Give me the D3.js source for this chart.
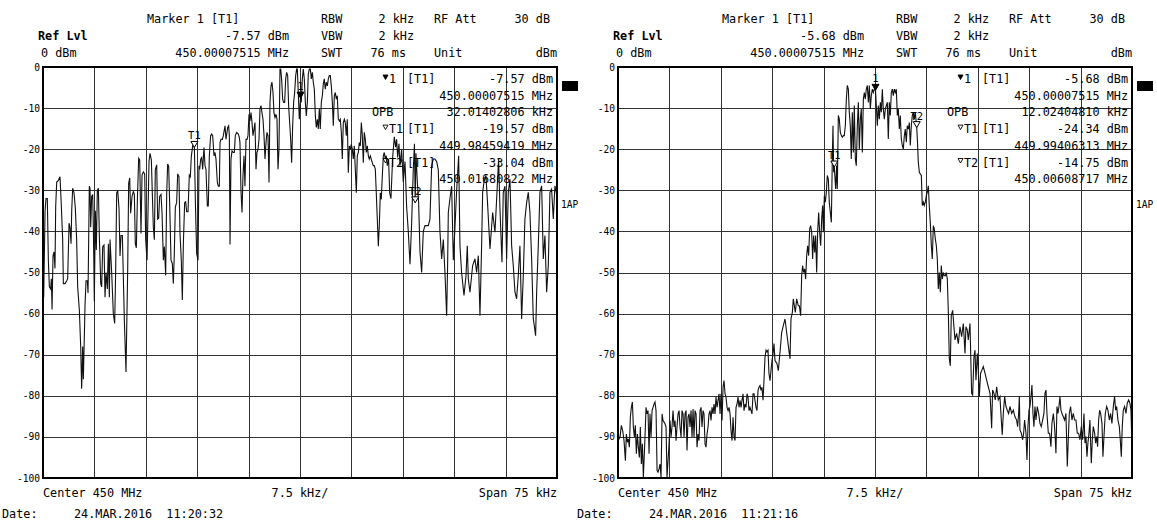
<!DOCTYPE html>
<html>
<head>
<meta charset="utf-8">
<script src="https://cdn.jsdelivr.net/npm/d3@7"></script>
<style>
  body { margin: 0; background: #fff; }
  svg text { font-family: "DejaVu Sans Mono", "Liberation Mono", monospace; fill: #000; white-space: pre; }
</style>
</head>
<body>
<svg id="chart" width="1157" height="520"></svg>
<script>
// Level grid (dBm) and frequency grid (kHz offset from 450 MHz centre)
const levelTicks = [0, -10, -20, -30, -40, -50, -60, -70, -80, -90, -100];
const freqGrid = [-37.5, -30, -22.5, -15, -7.5, 0, 7.5, 15, 22.5, 30, 37.5];

// Trace 1, first sweep: [offset kHz, level dBm]
const sweepA = [
  [-37.5,-46],[-37.4,-56],[-37.2,-35],[-37.06,-32],[-36.87,-32],[-36.72,-47],[-36.57,-53.5],[-36.38,-54],[-36.28,-51.5],[-36.18,-59],
  [-36.04,-46],[-35.89,-45],[-35.75,-49],[-35.65,-34],[-35.5,-28],[-35.26,-27.6],[-35.02,-26.7],[-34.87,-32],[-34.63,-42],[-34.53,-52.7],
  [-34.29,-52.7],[-34.04,-52],[-33.9,-51.5],[-33.7,-38],[-33.56,-39],[-33.41,-43],[-33.31,-35],[-33.17,-29.5],[-32.97,-30.7],[-32.78,-34.4],
  [-32.59,-42],[-32.44,-53.5],[-32.2,-59],[-32.0,-68],[-31.86,-78.3],[-31.71,-68],[-31.61,-76],[-31.37,-58],[-31.22,-52],[-31.03,-52],
  [-30.93,-55],[-30.74,-29],[-30.64,-29.5],[-30.54,-39],[-30.4,-31.5],[-30.25,-31],[-30.15,-39],[-30.01,-57],[-29.86,-35],[-29.72,-44.5],
  [-29.57,-30],[-29.42,-29.5],[-29.28,-41],[-29.08,-52.7],[-28.94,-53.5],[-28.79,-43.7],[-28.6,-43.3],[-28.45,-56],[-28.3,-50],[-28.11,-54],
  [-27.96,-43],[-27.82,-56],[-27.72,-42],[-27.48,-50],[-27.24,-60],[-27.04,-62.4],[-26.9,-50],[-26.75,-30.7],[-26.6,-30],[-26.41,-34.4],
  [-26.26,-46],[-26.12,-41],[-25.92,-41],[-25.78,-51],[-25.63,-61.6],[-25.39,-74.2],[-25.14,-49],[-25.0,-28.3],[-24.85,-27],[-24.71,-35.6],
  [-24.51,-31.5],[-24.32,-30.3],[-24.17,-31],[-24.03,-43],[-23.88,-44],[-23.73,-32.4],[-23.54,-22.2],[-23.39,-22.6],[-23.2,-40.5],[-23.05,-26.3],
  [-22.86,-25.5],[-22.66,-26],[-22.52,-42],[-22.32,-47],[-22.18,-35.6],[-22.03,-23],[-21.89,-21],[-21.69,-22.6],[-21.55,-30.7],[-21.4,-39],
  [-21.25,-42],[-21.11,-25],[-20.91,-23.8],[-20.77,-37],[-20.62,-36.8],[-20.48,-31.5],[-20.28,-31],[-20.13,-35.6],[-19.94,-47],[-19.79,-43.7],
  [-19.6,-50.7],[-19.45,-30.7],[-19.31,-23.6],[-19.16,-24.2],[-19.02,-33],[-18.82,-47],[-18.63,-47.8],[-18.48,-52.7],[-18.34,-45.4],[-18.19,-34],
  [-18.0,-33],[-17.85,-26],[-17.66,-26.7],[-17.51,-40.5],[-17.32,-47],[-17.17,-56.7],[-17.02,-43],[-16.83,-33],[-16.68,-32.8],[-16.54,-35.2],
  [-16.34,-35.2],[-16.15,-26.3],[-16.0,-26.7],[-15.86,-21.8],[-15.66,-19.2],[-15.41,-19.57],[-15.27,-32.4],[-15.08,-45.4],[-14.88,-47],[-14.74,-24],
  [-14.64,-24.9],[-14.49,-22.4],[-14.35,-22],[-14.2,-24.9],[-14.01,-19.6],[-13.86,-24],[-13.72,-24.9],[-13.52,-33.8],[-13.38,-33.8],[-13.23,-21.6],
  [-13.04,-16.7],[-12.89,-16.3],[-12.74,-16.7],[-12.55,-21.6],[-12.4,-20.8],[-12.26,-22.4],[-12.06,-28.1],[-11.92,-29],[-11.77,-29],[-11.67,-18.4],
  [-11.53,-17.6],[-11.33,-17.6],[-11.19,-16.7],[-10.94,-14.3],[-10.8,-17.6],[-10.55,-14.7],[-10.41,-14.3],[-10.31,-16.7],[-10.21,-43.2],[-10.07,-22.4],
  [-9.92,-20.4],[-9.73,-20.8],[-9.58,-20.8],[-9.44,-16.7],[-9.24,-15.9],[-9.0,-16.3],[-8.85,-17.2],[-8.76,-18.4],[-8.61,-30.2],[-8.46,-35.4],
  [-8.32,-26.5],[-8.17,-21.6],[-8.03,-29],[-7.88,-17.6],[-7.73,-17.6],[-7.59,-16.7],[-7.44,-11.5],[-7.3,-13.1],[-7.15,-11.1],[-7.0,-13.5],
  [-6.86,-16.7],[-6.71,-15.1],[-6.57,-13.5],[-6.42,-24.9],[-6.28,-20.8],[-6.13,-20],[-5.98,-17.6],[-5.84,-10.2],[-5.69,-9.4],[-5.55,-11.1],
  [-5.4,-12.7],[-5.25,-16.7],[-5.11,-22.4],[-4.96,-18.4],[-4.82,-15.9],[-4.67,-16.7],[-4.52,-28.1],[-4.38,-8.6],[-4.23,-4.6],[-4.09,-3.7],
  [-3.94,-6.2],[-3.8,-11.1],[-3.65,-12.3],[-3.5,-11.5],[-3.36,-12.7],[-3.21,-24.9],[-3.07,-20],[-2.92,-0.5],[-2.82,-0.5],[-2.68,-2.9],
  [-2.53,-7.8],[-2.38,-8.6],[-2.24,-8.6],[-2.09,-2.9],[-1.95,-1.3],[-1.8,-2.1],[-1.66,-9.4],[-1.51,-13.5],[-1.36,-17.6],[-1.22,-23.3],
  [-1.07,-14.3],[-0.93,-8.6],[-0.78,-6.2],[-0.63,-2.1],[-0.49,-0.5],[-0.39,-0.5],[-0.25,-6.2],[-0.1,-12.7],[0.075,-7.57],[0.19,-8.6],
  [0.34,-2.9],[0.48,-0.5],[0.63,-2.9],[0.78,-8.6],[0.92,-11.9],[1.07,-8.6],[1.21,-1.7],[1.36,-0.5],[1.51,-0.5],[1.65,-2.9],
  [1.8,-1.3],[1.94,-3.7],[2.09,-5.4],[2.24,-11.9],[2.38,-14.7],[2.53,-12.7],[2.67,-15.1],[2.82,-10.2],[2.96,-15.1],[3.11,-8.6],
  [3.26,-7],[3.4,-4.1],[3.55,-2.9],[3.69,-5.4],[3.84,-3.7],[3.99,-4.6],[4.13,-2.9],[4.28,-2.1],[4.42,-2.1],[4.57,-4.6],
  [4.72,-8.6],[4.86,-14.3],[5.01,-7],[5.15,-6.2],[5.3,-7.8],[5.44,-7],[5.59,-12.7],[5.74,-13.1],[5.88,-12.7],[6.03,-15.9],
  [6.17,-22.4],[6.32,-13.5],[6.47,-12.7],[6.61,-13.5],[6.76,-16.7],[6.9,-12.7],[7.05,-25.7],[7.2,-19.2],[7.34,-20],[7.49,-18.8],
  [7.63,-20],[7.78,-22.4],[7.92,-19.2],[8.07,-24.9],[8.22,-30.6],[8.36,-21.6],[8.51,-20.8],[8.65,-18.4],[8.8,-19.2],[8.95,-13.5],
  [9.09,-16.7],[9.24,-23.3],[9.38,-15.9],[9.53,-17.6],[9.68,-20.8],[9.82,-19.2],[9.97,-21.6],[10.11,-22.4],[10.26,-21.6],[10.4,-22.4],
  [10.55,-23.3],[10.7,-24],[10.84,-24],[10.99,-24.9],[11.13,-30.6],[11.28,-37.1],[11.43,-43.6],[11.57,-38.7],[11.72,-30.6],[11.86,-32.2],
  [12.01,-26.5],[12.16,-21.6],[12.3,-20.8],[12.45,-22.4],[12.59,-21.6],[12.74,-24],[12.93,-22.4],[13.08,-30.6],[13.27,-32],[13.52,-22],
  [13.76,-17],[13.96,-19.5],[14.1,-17.6],[14.25,-22],[14.44,-18.7],[14.59,-24],[14.83,-20],[15.07,-28],[15.32,-23],[15.56,-34],
  [15.8,-40],[16.05,-48],[16.29,-38],[16.53,-25],[16.7,-18.7],[16.81,-33.04],[16.92,-21],[17.12,-28],[17.31,-33],[17.51,-45],
  [17.75,-50],[17.99,-40],[18.24,-38.6],[18.48,-38.6],[18.72,-38.6],[18.96,-37],[19.21,-24],[19.45,-22.4],[19.69,-22.4],[19.94,-23],
  [20.18,-25],[20.42,-40],[20.67,-46.7],[20.91,-42],[21.15,-50],[21.4,-60.5],[21.54,-48],[21.64,-35.4],[21.88,-32],[22.13,-29],
  [22.37,-47],[22.61,-39],[22.86,-30],[23.15,-21.6],[23.34,-43.5],[23.58,-50],[23.93,-55.6],[24.22,-50.8],[24.41,-43.5],[24.56,-51.6],
  [24.8,-54.8],[25.19,-48.3],[25.53,-46.7],[25.77,-50],[26.02,-45.9],[26.26,-60.5],[26.5,-43.5],[26.65,-30.5],[26.84,-28],[27.13,-26.4],
  [27.33,-32],[27.72,-44.3],[28.11,-35.4],[28.45,-40.2],[28.79,-28.9],[28.98,-22.4],[29.18,-34.6],[29.47,-47.5],[29.66,-30.5],[29.91,-29],
  [30.15,-46.7],[30.39,-30.5],[30.64,-27.3],[30.88,-43.5],[31.12,-48.3],[31.37,-54.8],[31.61,-56.4],[31.85,-50.8],[32.09,-43.5],[32.34,-61.3],
  [32.58,-50.8],[32.82,-37],[33.07,-33],[33.31,-30.5],[33.55,-35.4],[33.8,-46.7],[34.04,-61.3],[34.19,-63],[34.38,-65.4],[34.53,-54.8],
  [34.77,-43.5],[35.01,-30.5],[35.26,-28.9],[35.5,-46.7],[35.74,-41],[35.99,-54.8],[36.23,-48.3],[36.47,-30.5],[36.71,-29.7],[36.96,-37],
  [37.2,-28.9],[37.4,-30.5],[37.5,-30]
];

// Trace 1, second sweep: [offset kHz, level dBm]
const sweepB = [
  [-37.49,-88.9],[-37.35,-90.5],[-37.2,-90],[-37.01,-87.2],[-36.81,-88.5],[-36.62,-90.9],[-36.42,-95.8],[-36.28,-89.3],[-36.13,-91.3],[-35.99,-90.5],
  [-35.84,-92.5],[-35.7,-85.2],[-35.55,-82.8],[-35.4,-81.5],[-35.26,-87.6],[-35.11,-90],[-34.97,-87.2],[-34.82,-94.1],[-34.67,-89.3],[-34.53,-92.5],
  [-34.38,-95],[-34.24,-87.6],[-34.09,-96.6],[-33.94,-91.7],[-33.8,-99.8],[-33.7,-95.8],[-33.56,-90],[-33.41,-82.8],[-33.26,-84.4],[-33.12,-83.6],
  [-32.97,-94.1],[-32.83,-84.4],[-32.68,-90],[-32.53,-83.6],[-32.39,-82.8],[-32.24,-82],[-32.1,-81.5],[-31.95,-83.6],[-31.8,-98.2],[-31.66,-98.6],
  [-31.51,-97.8],[-31.37,-96.6],[-31.22,-99.8],[-31.07,-84.4],[-30.93,-86],[-30.78,-86.4],[-30.64,-86.8],[-30.49,-87.6],[-30.35,-99.8],[-30.2,-95.8],
  [-30.05,-91.7],[-29.91,-86],[-29.76,-90],[-29.62,-87.6],[-29.47,-83.6],[-29.32,-87.6],[-29.18,-86],[-29.03,-90.9],[-28.89,-87.6],[-28.74,-84.4],
  [-28.59,-83.6],[-28.45,-87.6],[-28.3,-90],[-28.16,-83.6],[-28.01,-84.4],[-27.86,-90],[-27.72,-84.4],[-27.57,-83.6],[-27.43,-93.3],[-27.28,-85.2],
  [-27.13,-84.4],[-26.99,-87.6],[-26.84,-83.6],[-26.7,-90],[-26.55,-83.2],[-26.41,-90],[-26.26,-83.6],[-26.11,-84.4],[-25.97,-92.5],[-25.82,-89.3],
  [-25.68,-90.9],[-25.53,-83.6],[-25.38,-82.8],[-25.24,-87.6],[-25.09,-83.6],[-24.95,-84.4],[-24.8,-91.7],[-24.66,-92.5],[-24.51,-89.3],[-24.36,-87.6],
  [-24.22,-84.4],[-24.07,-83.6],[-23.93,-86],[-23.78,-82.8],[-23.63,-84.4],[-23.49,-82],[-23.34,-84.4],[-23.2,-80.3],[-23.05,-82.8],[-22.9,-81.1],
  [-22.76,-79.5],[-22.61,-84.4],[-22.47,-79.5],[-22.32,-86],[-22.17,-77.9],[-22.03,-76.3],[-21.88,-79.5],[-21.74,-80.3],[-21.59,-82.8],[-21.44,-83.6],
  [-21.3,-82.8],[-21.15,-84.4],[-21.01,-88.5],[-20.86,-90.9],[-20.71,-85.2],[-20.57,-90],[-20.42,-90.9],[-20.28,-82.8],[-20.13,-82],[-19.99,-80.3],
  [-19.84,-82.8],[-19.69,-81.1],[-19.55,-82.8],[-19.4,-81.1],[-19.26,-79.5],[-19.11,-83.6],[-18.96,-82],[-18.82,-82.8],[-18.67,-79.5],[-18.53,-80.3],
  [-18.38,-83.6],[-18.24,-82.8],[-18.09,-83.6],[-17.95,-84.4],[-17.8,-79.5],[-17.65,-79.5],[-17.51,-81.1],[-17.36,-82.8],[-17.22,-83.6],[-17.07,-78.7],
  [-16.92,-77.9],[-16.78,-77.5],[-16.63,-78.7],[-16.49,-77.9],[-16.34,-81.1],[-16.2,-76.3],[-16.05,-70.6],[-15.9,-68.9],[-15.76,-69.3],[-15.61,-68.9],
  [-15.47,-74.6],[-15.32,-76.3],[-15.17,-73.8],[-15.03,-71.4],[-14.88,-69.8],[-14.74,-67.3],[-14.59,-71.4],[-14.44,-71.8],[-14.3,-72.2],[-14.11,-73.9],
  [-13.86,-69.4],[-13.62,-64.6],[-13.38,-62.9],[-13.13,-61.3],[-12.89,-64.6],[-12.65,-67.8],[-12.4,-71],[-12.26,-61.3],[-12.06,-59.7],[-11.92,-56.4],
  [-11.77,-58.1],[-11.63,-59.7],[-11.43,-56.4],[-11.19,-58.1],[-11.04,-58.1],[-10.85,-60.5],[-10.7,-50.8],[-10.56,-48.3],[-10.41,-50],[-10.26,-49.1],
  [-10.12,-51.6],[-9.97,-45.9],[-9.83,-43.5],[-9.68,-45.9],[-9.53,-39.4],[-9.39,-38.6],[-9.24,-40.2],[-9.1,-46.7],[-8.95,-41],[-8.8,-45.1],
  [-8.66,-41],[-8.51,-50],[-8.37,-40.2],[-8.22,-35.4],[-8.08,-40.2],[-7.93,-43.5],[-7.78,-37],[-7.64,-33.7],[-7.54,-40.2],[-7.39,-31.3],
  [-7.25,-32.9],[-7.1,-30.5],[-6.96,-26.4],[-6.81,-27.3],[-6.67,-32.9],[-6.52,-35.4],[-6.37,-37.8],[-6.23,-22.4],[-6.13,-14.3],[-6.03,-25.6],
  [-5.94,-24.34],[-5.74,-29.7],[-5.6,-24],[-5.5,-29.7],[-5.35,-11.8],[-5.21,-12.7],[-5.06,-15.9],[-4.91,-16.7],[-4.77,-17.1],[-4.62,-16.7],
  [-4.48,-16.7],[-4.33,-14.3],[-4.18,-7.8],[-4.04,-4.5],[-3.89,-5.4],[-3.75,-11],[-3.6,-14.3],[-3.46,-22.4],[-3.31,-11],[-3.16,-20.8],
  [-3.02,-9.4],[-2.87,-22.4],[-2.73,-24],[-2.58,-14.3],[-2.43,-8.6],[-2.29,-20],[-2.14,-12.7],[-2.0,-10.2],[-1.85,-20.8],[-1.7,-7.8],
  [-1.56,-6.2],[-1.41,-7.8],[-1.27,-5.4],[-1.12,-4.5],[-0.97,-8.6],[-0.83,-4.5],[-0.68,-10.2],[-0.54,-7],[-0.39,-5.4],[-0.25,-6.2],
  [-0.1,-5.4],[0.075,-5.68],[0.19,-9.4],[0.34,-14.3],[0.48,-9.4],[0.63,-12.7],[0.78,-8.6],[0.92,-11],[1.07,-5.4],[1.21,-10.2],
  [1.36,-12.7],[1.51,-10.2],[1.65,-9.4],[1.8,-8.6],[1.94,-17.5],[2.09,-8.6],[2.23,-11.8],[2.38,-6.2],[2.53,-5.4],[2.67,-7],
  [2.82,-5.4],[2.96,-6.2],[3.11,-5.4],[3.26,-11.8],[3.4,-10.2],[3.55,-15.1],[3.69,-11.8],[3.84,-17.5],[3.99,-19.1],[4.13,-20],
  [4.28,-16.7],[4.42,-15.1],[4.57,-18.3],[4.71,-14.3],[4.86,-15.1],[5.01,-13.5],[5.15,-19.1],[5.3,-14.3],[5.44,-11.8],[5.59,-11],
  [5.74,-12.7],[5.88,-11],[6.09,-14.75],[6.2,-18.3],[6.32,-23.2],[6.47,-25.6],[6.61,-26],[6.76,-26.4],[6.9,-33.7],[7.05,-32.9],
  [7.19,-33.7],[7.34,-32.9],[7.49,-31.3],[7.63,-30.5],[7.78,-28.9],[7.92,-33.7],[8.07,-37.8],[8.22,-43.5],[8.36,-46.7],[8.51,-38.6],
  [8.65,-39.4],[8.8,-41.8],[8.95,-43.5],[9.09,-46.7],[9.24,-54],[9.38,-50],[9.53,-54.8],[9.67,-48.3],[9.82,-51.6],[9.97,-50],
  [10.11,-50.8],[10.26,-50.8],[10.4,-50],[10.55,-51.6],[10.7,-59.7],[10.84,-71],[10.99,-72.7],[11.13,-60.5],[11.33,-59.2],[11.67,-66.4],
  [11.91,-64.8],[12.16,-67.3],[12.4,-63.2],[12.64,-65.6],[12.89,-62.4],[13.13,-69.7],[13.27,-63.2],[13.47,-64],[13.61,-66.4],[13.86,-62.4],
  [14.1,-79.4],[14.25,-79.8],[14.44,-70.5],[14.59,-68.9],[14.73,-76.2],[14.93,-69.7],[15.07,-73.7],[15.22,-80.2],[15.41,-74.5],[15.61,-73.7],
  [15.8,-72.9],[16.05,-74.5],[16.29,-76.2],[16.53,-77.8],[16.78,-79.4],[17.02,-87.9],[17.16,-78.6],[17.36,-79.4],[17.55,-81],[17.75,-77.8],
  [17.99,-81],[18.23,-80.2],[18.43,-85.9],[18.57,-89.5],[18.72,-84.3],[18.92,-80.2],[19.11,-82.6],[19.3,-83.5],[19.5,-84.3],[19.69,-82.6],
  [19.94,-84.3],[20.18,-83.5],[20.42,-85.1],[20.67,-85.9],[20.81,-87.5],[20.96,-84.3],[21.06,-80.2],[21.15,-88.3],[21.35,-89.1],[21.54,-90.7],
  [21.69,-89.1],[21.83,-85.9],[22.03,-89.1],[22.17,-95.6],[22.32,-87.5],[22.47,-83.5],[22.61,-82.6],[22.76,-80.2],[22.9,-77.4],[23.05,-84.3],
  [23.19,-87.5],[23.34,-82.6],[23.49,-85.9],[23.68,-82.6],[23.88,-84.3],[24.07,-86.7],[24.26,-87.5],[24.46,-85.9],[24.65,-84.3],[24.8,-79.4],
  [24.95,-78.6],[25.09,-84.3],[25.29,-89.1],[25.48,-89.1],[25.67,-92.4],[25.82,-86.7],[26.02,-84.3],[26.16,-86.7],[26.31,-90.7],[26.4,-94],
  [26.55,-82.6],[26.7,-84.3],[26.84,-82.6],[26.99,-80.2],[27.13,-83.5],[27.28,-84.3],[27.47,-85.1],[27.67,-85.9],[27.86,-84.3],[28.06,-97.2],
  [28.2,-90.7],[28.35,-84.3],[28.54,-82.6],[28.74,-85.9],[28.93,-84.3],[29.13,-85.9],[29.32,-85.9],[29.52,-89.1],[29.71,-89.1],[29.91,-90.7],
  [30.1,-87.5],[30.3,-90.7],[30.49,-84.3],[30.64,-91.5],[30.78,-89.9],[30.93,-94.8],[31.07,-91.5],[31.22,-89.1],[31.36,-85.9],[31.56,-96.4],
  [31.71,-90.7],[31.85,-87.5],[32.05,-89.1],[32.19,-91.5],[32.34,-89.9],[32.48,-92.4],[32.63,-85.9],[32.78,-83.5],[32.92,-84.3],[33.12,-86.7],
  [33.26,-94.8],[33.41,-89.9],[33.6,-84.3],[33.8,-82.6],[33.99,-83.5],[34.19,-85.9],[34.38,-84.3],[34.57,-86.7],[34.77,-82.6],[34.96,-80.2],
  [35.11,-83.5],[35.26,-82.6],[35.45,-85.9],[35.65,-87.5],[35.79,-90.7],[35.94,-94.8],[36.08,-87.5],[36.23,-83.5],[36.42,-82.6],[36.62,-84.3],
  [36.81,-81.8],[37.01,-81],[37.2,-81.8],[37.35,-83.5],[37.44,-89.1],[37.5,-85]
];

// Markers (offset kHz, level dBm)
const markersA = [
  { id: "1",  kHz: 0.07515,   dBm: -7.57,  filled: true },
  { id: "T1", kHz: -15.40581, dBm: -19.57, filled: false },
  { id: "T2", kHz: 16.80822,  dBm: -33.04, filled: false }
];
const markersB = [
  { id: "1",  kHz: 0.07515,   dBm: -5.68,  filled: true },
  { id: "T1", kHz: -5.93687,  dBm: -24.34, filled: false },
  { id: "T2", kHz: 6.08717,   dBm: -14.75, filled: false }
];
const occupiedBwKHz = ["32.01402806", "12.02404810"];
const sweepDates = ["24.MAR.2016  11:20:32", "24.MAR.2016  11:21:16"];
const centerMHz = 450;

// ---- layout ----
const svg = d3.select("#chart");
const panelOffsets = [0, 575];
const plotLeft = 43, plotWidth = 514, plotTop = 67, plotBottom = 478;
const mainFont = 11.8, smallFont = 9.6;

const mhz = k => (centerMHz + k / 1000).toFixed(8);

function drawPanel(ox, trace, markers, opb, date, idx) {
  const g = svg.append("g").attr("transform", `translate(${ox},0)`);
  const x = d3.scaleLinear().domain([-37.5, 37.5]).range([plotLeft, plotLeft + plotWidth]);
  const y = d3.scaleLinear().domain([0, -100]).range([plotTop, plotBottom]);
  const right = plotLeft + plotWidth;
  const m1 = markers[0];

  const txt = (s, tx, ty, anchor = "start", size = mainFont, weight = "normal") =>
    g.append("text").attr("x", tx).attr("y", ty).attr("text-anchor", anchor)
      .attr("font-size", size).attr("font-weight", weight).attr("xml:space", "preserve").text(s);

  // header block
  txt("Marker 1 [T1]", 147, 23);
  txt("RBW", 321, 23);
  txt("2 kHz", 414, 23, "end");
  txt("RF Att", 434, 23);
  txt("30 dB", 550, 23, "end");
  txt("Ref Lvl", 38, 40, "start", mainFont, "bold");
  txt(`${m1.dBm.toFixed(2)} dBm`, 289, 40, "end");
  txt("VBW", 321, 40);
  txt("2 kHz", 414, 40, "end");
  txt("0 dBm", 41, 57);
  txt(`${mhz(m1.kHz)} MHz`, 289, 57, "end");
  txt("SWT", 321, 57);
  txt("76 ms", 406, 57, "end");
  txt("Unit", 434, 57);
  txt("dBm", right, 57, "end");

  // grid
  const grid = g.append("g").attr("stroke", "#333").attr("stroke-width", 1).attr("shape-rendering", "crispEdges");
  grid.selectAll("line.v").data(freqGrid.slice(1, -1)).join("line")
    .attr("x1", d => Math.round(x(d)) + 0.5).attr("x2", d => Math.round(x(d)) + 0.5)
    .attr("y1", plotTop).attr("y2", plotBottom);
  grid.selectAll("line.h").data(levelTicks.slice(1, -1)).join("line")
    .attr("y1", d => Math.round(y(d)) + 0.5).attr("y2", d => Math.round(y(d)) + 0.5)
    .attr("x1", plotLeft).attr("x2", right);

  // level axis labels
  const axis = d3.axisLeft(y).tickValues(levelTicks).tickSize(0).tickPadding(3).tickFormat(d => String(d));
  const ax = g.append("g").attr("transform", `translate(${plotLeft},0)`).call(axis);
  ax.select(".domain").remove();
  ax.selectAll("text").attr("font-size", smallFont)
    .attr("font-family", '"DejaVu Sans Mono", monospace').attr("fill", "#000");

  // trace
  const clipId = `clip${idx}`;
  g.append("clipPath").attr("id", clipId).append("rect")
    .attr("x", plotLeft).attr("y", plotTop - 1).attr("width", plotWidth).attr("height", plotBottom - plotTop + 2);
  const line = d3.line().x(d => x(d[0])).y(d => y(d[1]));
  g.append("path").datum(trace).attr("d", line).attr("clip-path", `url(#${clipId})`)
    .attr("fill", "none").attr("stroke", "#111").attr("stroke-width", 1.1).attr("stroke-linejoin", "miter");

  // markers on trace
  markers.forEach(m => {
    const mx = x(m.kHz), my = y(m.dBm);
    g.append("path").attr("d", `M${mx},${my}L${mx - 3.5},${my - 6}L${mx + 3.5},${my - 6}Z`)
      .attr("fill", m.filled ? "#000" : "#fff").attr("stroke", "#000").attr("stroke-width", 1);
    txt(m.id, mx, my - 8, "middle", 10.5);
  });

  // frame
  g.append("rect").attr("x", plotLeft).attr("y", plotTop).attr("width", plotWidth).attr("height", plotBottom - plotTop)
    .attr("fill", "none").attr("stroke", "#000").attr("stroke-width", 2);

  // marker table
  const rowY = i => 83 + i * 16.7;
  const symbol = (sx, sy, filled) =>
    g.append("path").attr("d", `M${sx},${sy - 8}L${sx + 5},${sy - 8}L${sx + 2.5},${sy - 3.5}Z`)
      .attr("fill", filled ? "#000" : "none").attr("stroke", "#000").attr("stroke-width", 0.9);
  symbol(383, rowY(0), true);
  txt("1", 389, rowY(0));
  txt("[T1]", 407, rowY(0));
  txt(`${m1.dBm.toFixed(2)} dBm`, right - 4, rowY(0), "end");
  txt(`${mhz(m1.kHz)} MHz`, right - 4, rowY(1), "end");
  txt("OPB", 372, rowY(2));
  txt(`${opb} kHz`, right - 4, rowY(2), "end");
  markers.slice(1).forEach((m, i) => {
    const r = 3 + i * 2;
    symbol(383, rowY(r), false);
    txt(m.id, 389, rowY(r));
    txt("[T1]", 407, rowY(r));
    txt(`${m.dBm.toFixed(2)} dBm`, right - 4, rowY(r), "end");
    txt(`${mhz(m.kHz)} MHz`, right - 4, rowY(r + 1), "end");
  });

  // side annotations
  g.append("rect").attr("x", right + 5).attr("y", 81).attr("width", 16).attr("height", 10).attr("fill", "#000");
  txt("1AP", right + 4, 208, "start", smallFont);

  // footer
  txt("Center 450 MHz", plotLeft, 497);
  txt("7.5 kHz/", (plotLeft + right) / 2, 497, "middle");
  txt("Span 75 kHz", right, 497, "end");
  txt("Date:", 2, 518);
  txt(date, 74, 518);
}

drawPanel(panelOffsets[0], sweepA, markersA, occupiedBwKHz[0], sweepDates[0], 0);
drawPanel(panelOffsets[1], sweepB, markersB, occupiedBwKHz[1], sweepDates[1], 1);
</script>
</body>
</html>
